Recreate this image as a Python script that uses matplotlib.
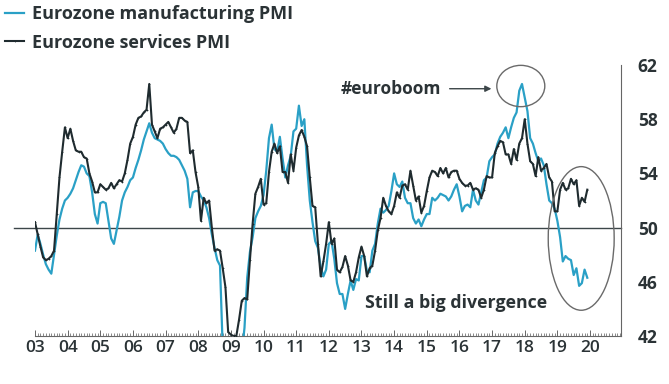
#Eurozone PMI chart: manufacturing vs services
import numpy as np
import matplotlib
matplotlib.use('Agg')
import matplotlib.pyplot as plt
from matplotlib.patches import Ellipse
from matplotlib.ticker import MultipleLocator, FixedLocator

plt.rcParams['font.family'] = ['Open Sans', 'DejaVu Sans']

#Monthly manufacturing PMI, Jan 2003 - Dec 2019
mfg_2003 = [48.3, 49.5, 48.8, 48.0, 47.3, 46.9, 46.6, 48.0, 49.4, 50.6, 51.4, 52.0]
mfg_2004 = [52.2, 52.5, 52.9, 53.5, 54.1, 54.6, 54.5, 54.0, 53.8, 52.6, 51.0, 50.3]
mfg_2005 = [51.8, 51.9, 51.8, 50.5, 49.2, 48.8, 49.8, 50.8, 52.0, 52.6, 53.0, 53.5]
mfg_2006 = [53.7, 54.4, 55.0, 55.7, 56.5, 57.1, 57.7, 57.0, 56.6, 56.5, 56.4, 56.2]
mfg_2007 = [55.8, 55.5, 55.3, 55.3, 55.2, 55.0, 54.6, 54.2, 53.6, 51.5, 52.6, 52.7]
mfg_2008 = [52.7, 52.3, 52.0, 51.5, 50.7, 49.5, 48.5, 47.6, 47.2, 41.1, 35.6, 33.9]
mfg_2009 = [34.4, 33.5, 33.9, 36.8, 40.7, 42.6, 46.3, 48.2, 49.3, 50.7, 51.2, 51.6]
mfg_2010 = [52.4, 54.2, 56.6, 57.6, 55.8, 55.6, 56.7, 55.1, 53.7, 54.6, 55.3, 57.1]
mfg_2011 = [57.3, 59.0, 57.5, 58.0, 54.6, 52.0, 50.4, 49.0, 48.5, 47.1, 46.4, 46.9]
mfg_2012 = [48.8, 49.0, 47.7, 45.9, 45.1, 45.1, 44.0, 45.1, 46.1, 45.4, 46.2, 46.1]
mfg_2013 = [47.9, 47.9, 46.8, 46.7, 48.3, 48.8, 50.3, 51.4, 51.1, 51.3, 51.6, 52.7]
mfg_2014 = [54.0, 53.2, 53.0, 53.4, 52.2, 51.8, 51.8, 50.7, 50.3, 50.6, 50.1, 50.6]
mfg_2015 = [51.0, 51.0, 52.2, 52.0, 52.2, 52.5, 52.4, 52.3, 52.0, 52.3, 52.8, 53.2]
mfg_2016 = [52.3, 51.2, 51.6, 51.7, 51.5, 52.8, 52.0, 51.7, 52.6, 53.5, 53.7, 54.9]
mfg_2017 = [55.2, 55.4, 56.2, 56.7, 57.0, 57.4, 56.6, 57.4, 58.1, 58.5, 60.1, 60.6]
mfg_2018 = [59.6, 58.6, 56.6, 56.2, 55.5, 54.9, 55.1, 54.6, 53.2, 52.0, 51.8, 51.4]
mfg_2019 = [50.5, 49.3, 47.5, 47.9, 47.7, 47.6, 46.5, 47.0, 45.7, 45.9, 46.9, 46.3]

#Monthly services PMI, Jan 2003 - Dec 2019
srv_2003 = [50.4, 49.5, 48.6, 47.8, 47.6, 47.7, 47.9, 48.3, 51.0, 53.7, 55.6, 57.4]
srv_2004 = [56.6, 57.3, 56.4, 55.7, 55.6, 55.6, 55.2, 55.1, 54.0, 53.4, 52.6, 52.6]
srv_2005 = [53.2, 53.0, 52.8, 52.9, 53.3, 52.9, 53.2, 53.5, 53.4, 54.0, 55.0, 56.2]
srv_2006 = [56.7, 57.6, 58.1, 58.2, 58.5, 58.7, 60.6, 57.6, 57.1, 56.6, 57.3, 57.4]
srv_2007 = [57.6, 57.8, 57.4, 57.0, 57.3, 58.1, 58.1, 57.9, 57.8, 55.5, 55.7, 54.1]
srv_2008 = [53.0, 50.5, 52.2, 51.8, 52.0, 50.0, 48.3, 48.4, 48.3, 47.0, 45.6, 42.3]
srv_2009 = [42.1, 42.0, 42.0, 43.2, 44.6, 44.8, 44.7, 47.6, 50.3, 52.5, 53.0, 53.6]
srv_2010 = [51.7, 51.8, 54.1, 55.6, 56.2, 55.5, 56.0, 54.1, 54.1, 53.3, 55.4, 54.2]
srv_2011 = [55.9, 56.8, 57.2, 56.7, 56.0, 53.7, 51.6, 51.5, 48.8, 46.4, 47.5, 48.8]
srv_2012 = [50.4, 48.8, 49.2, 46.9, 46.7, 47.1, 47.9, 47.2, 46.1, 46.0, 46.7, 47.8]
srv_2013 = [48.6, 47.9, 46.4, 47.0, 47.2, 48.3, 49.8, 50.7, 52.2, 51.6, 51.2, 51.0]
srv_2014 = [51.6, 52.6, 52.2, 53.1, 53.2, 52.8, 54.2, 53.1, 52.0, 52.3, 51.1, 51.6]
srv_2015 = [52.7, 53.7, 54.2, 54.1, 53.8, 54.4, 54.0, 54.4, 53.7, 54.1, 54.2, 54.2]
srv_2016 = [53.6, 53.3, 53.1, 53.1, 53.3, 52.8, 52.9, 52.8, 52.2, 52.8, 53.8, 53.7]
srv_2017 = [53.7, 55.5, 56.0, 56.4, 56.3, 55.4, 55.4, 54.7, 55.8, 55.0, 56.2, 56.6]
srv_2018 = [58.0, 56.2, 54.9, 54.7, 53.8, 55.2, 54.2, 54.4, 54.7, 53.7, 53.4, 51.2]
srv_2019 = [51.2, 52.8, 53.3, 52.8, 52.9, 53.6, 53.2, 53.5, 51.6, 52.2, 51.9, 52.8]

year_labels = ['03', '04', '05', '06', '07', '08', '09', '10', '11', '12',
               '13', '14', '15', '16', '17', '18', '19', '20']
y_ticks = [42, 46, 50, 54, 58, 62]

mfg = np.array(mfg_2003 + mfg_2004 + mfg_2005 + mfg_2006 + mfg_2007 + mfg_2008 +
               mfg_2009 + mfg_2010 + mfg_2011 + mfg_2012 + mfg_2013 + mfg_2014 +
               mfg_2015 + mfg_2016 + mfg_2017 + mfg_2018 + mfg_2019)
srv = np.array(srv_2003 + srv_2004 + srv_2005 + srv_2006 + srv_2007 + srv_2008 +
               srv_2009 + srv_2010 + srv_2011 + srv_2012 + srv_2013 + srv_2014 +
               srv_2015 + srv_2016 + srv_2017 + srv_2018 + srv_2019)
t = 2003 + np.arange(len(mfg)) / 12.0  #decimal year of each month

blue = '#2aa0c6'
dark = '#1f2b2f'
grey = '#3c4649'
txt = '#2b3336'

fig = plt.figure(figsize=(6.69, 3.84), dpi=100)
ax = fig.add_axes([0.0523, 0.125, 0.8760, 0.7057])

ax.plot(t, mfg, color=blue, lw=1.6, label='Eurozone manufacturing PMI', zorder=3)
ax.plot(t, srv, color=dark, lw=1.5, marker='+', markersize=1.8, markeredgewidth=0.5,
        label='Eurozone services PMI', zorder=4)

#50 line, reaching a little past the left end of the axis
ax.axhline(50, xmin=-0.036, xmax=1, color=grey, lw=1.0, clip_on=False, zorder=2)

ax.set_xlim(2003.0, 2020.95)
ax.set_ylim(42, 62)

ax.spines['left'].set_visible(False)
ax.spines['top'].set_visible(False)
ax.spines['right'].set_color('#666666')
ax.spines['bottom'].set_color('#666666')
ax.spines['right'].set_linewidth(0.8)
ax.spines['bottom'].set_linewidth(0.8)

ax.xaxis.set_major_locator(FixedLocator(list(range(2003, 2021))))
ax.set_xticklabels(year_labels)
ax.xaxis.set_minor_locator(MultipleLocator(1 / 12))
ax.tick_params(axis='x', which='major', direction='in', length=4, width=0.7,
               color='#666666', labelsize=12.5, labelcolor=txt, pad=3)
ax.tick_params(axis='x', which='minor', direction='in', length=2.5, width=0.6,
               color='#777777')
for lab in ax.get_xticklabels():
    lab.set_fontweight('semibold')

ax.yaxis.tick_right()
ax.set_yticks(y_ticks)
ax.tick_params(axis='y', which='major', length=0, labelsize=12.5, labelcolor=txt, pad=12)
for lab in ax.get_yticklabels():
    lab.set_fontweight('bold')

#annotations
ax.add_patch(Ellipse((2017.88, 60.45), 1.47, 3.05, fill=False, edgecolor='#6a6a6a',
                     lw=1.0, clip_on=False, zorder=5))
ax.add_patch(Ellipse((2019.73, 49.2), 2.02, 10.6, fill=False, edgecolor='#6a6a6a',
                     lw=1.0, clip_on=False, zorder=5))
ax.annotate('', xy=(2016.98, 60.25), xytext=(2015.7, 60.25),
            arrowprops=dict(arrowstyle='-|>', color=grey, lw=1.0,
                            mutation_scale=9, shrinkA=0, shrinkB=0))
ax.text(2015.45, 60.25, '#euroboom', ha='right', va='center', fontsize=12.5,
        fontweight='bold', color=txt)
ax.text(2013.1, 44.4, 'Still a big divergence', ha='left', va='center', fontsize=12.8,
        fontweight='bold', color=txt)

leg = fig.legend(loc='upper left', bbox_to_anchor=(-0.012, 1.02), frameon=False,
                 handlelength=1.1, handletextpad=0.4, labelspacing=0.6,
                 borderaxespad=0.3, prop={'weight': 'bold', 'size': 13})
for text in leg.get_texts():
    text.set_color(txt)

plt.savefig('out.png', dpi=100)
